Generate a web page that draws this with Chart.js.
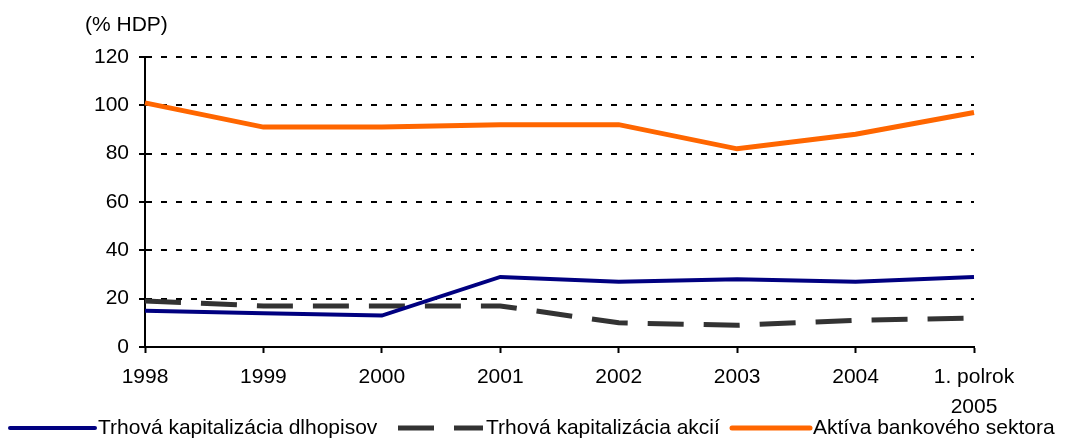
<!DOCTYPE html>
<html>
<head>
<meta charset="utf-8">
<script src="https://cdn.jsdelivr.net/npm/chart.js@4/dist/chart.umd.min.js"></script>
<style>
  html, body { margin: 0; padding: 0; background: #fff; }
  #wrap { width: 1074px; height: 439px; position: relative; }
</style>
</head>
<body>
<div id="wrap"><canvas id="c" width="1074" height="439"></canvas></div>
<script>
// Categories (years) and series, in % of GDP
const years = ['1998', '1999', '2000', '2001', '2002', '2003', '2004', ['1. polrok', '2005']];
const bondCap = [15, 14, 13, 29, 27, 28, 27, 29];
const equityCap = [19, 17, 17, 17, 10, 9, 11, 12];
const bankAssets = [101, 91, 91, 92, 92, 82, 88, 97];
const seriesNames = ['Trhová kapitalizácia dlhopisov', 'Trhová kapitalizácia akcií', 'Aktíva bankového sektora'];
const yTicks = [0, 20, 40, 60, 80, 100, 120];
const unitLabel = '(% HDP)';

const FONT = '"Liberation Sans", Arial, sans-serif';

// Legend drawn along the bottom edge: [line start, line end] per series
const legendSlots = [[10, 95], [398, 483], [732, 810]];
const bottomLegend = {
  id: 'bottomLegend',
  afterDraw(chart) {
    const ctx = chart.ctx;
    const y = 428;
    ctx.save();
    chart.data.datasets.forEach((ds, i) => {
      const [x0, x1] = legendSlots[i];
      ctx.save();
      ctx.strokeStyle = ds.borderColor;
      ctx.lineWidth = ds.borderWidth;
      const dash = ds.borderDash || [];
      ctx.setLineDash(dash);
      ctx.lineCap = dash.length ? 'butt' : 'round';
      ctx.beginPath();
      ctx.moveTo(x0, y);
      ctx.lineTo(x1, y);
      ctx.stroke();
      ctx.restore();
      ctx.fillStyle = '#000';
      ctx.font = '21px ' + FONT;
      ctx.textAlign = 'left';
      ctx.textBaseline = 'middle';
      ctx.fillText(ds.label, x1 + 3, y);
    });
    // unit caption above the value axis
    ctx.font = '21px ' + FONT;
    ctx.fillStyle = '#000';
    ctx.textAlign = 'left';
    ctx.textBaseline = 'middle';
    ctx.fillText(unitLabel, 85, 25);
    ctx.restore();
  }
};

new Chart(document.getElementById('c'), {
  type: 'line',
  data: {
    labels: years,
    datasets: [
      { label: seriesNames[0], data: bondCap, borderColor: '#000080', borderWidth: 4 },
      { label: seriesNames[1], data: equityCap, borderColor: '#333333', borderWidth: 5, borderDash: [36, 20] },
      { label: seriesNames[2], data: bankAssets, borderColor: '#FF6600', borderWidth: 5 }
    ]
  },
  options: {
    responsive: false,
    animation: false,
    devicePixelRatio: 1,
    elements: { point: { radius: 0, hoverRadius: 0 }, line: { tension: 0, fill: false } },
    layout: { padding: { left: 0, top: 57, right: 100, bottom: 0 } },
    plugins: { legend: { display: false }, tooltip: { enabled: false } },
    scales: {
      x: {
        offset: false,
        grid: { drawOnChartArea: false, drawTicks: true, tickLength: 6, tickColor: '#000', tickWidth: 2 },
        border: { display: true, color: '#000', width: 2 },
        ticks: { color: '#000', font: { family: FONT, size: 21, lineHeight: 1.45 }, padding: 9, maxRotation: 0, autoSkip: false },
        afterFit(scale) { scale.height = 92; }
      },
      y: {
        min: 0,
        max: 120,
        afterBuildTicks(scale) { scale.ticks = yTicks.map(v => ({ value: v })); },
        grid: { color: '#000', lineWidth: 2, drawTicks: true, tickLength: 6, tickColor: '#000', tickWidth: 2, tickBorderDash: [] },
        border: { display: true, color: '#000', width: 2, dash: [6, 9] },
        ticks: { color: '#000', font: { family: FONT, size: 21 }, padding: 10 },
        afterFit(scale) { scale.width = 145; }
      }
    }
  },
  plugins: [bottomLegend]
});
</script>
</body>
</html>
